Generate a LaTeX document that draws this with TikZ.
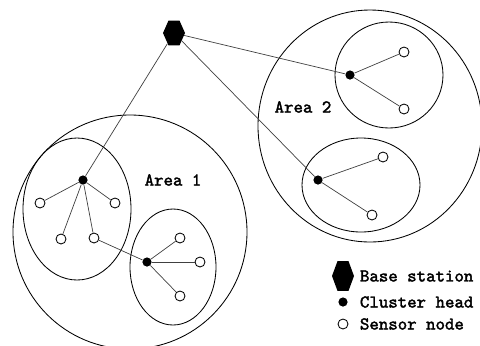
\documentclass[tikz,border=0pt]{standalone}
\usepackage{fontspec}
\usepackage{tikz}
\usetikzlibrary{shapes.geometric}
\newfontfamily\labelfont{lmmono10-regular.otf}[FakeBold=2]

\begin{document}
\begin{tikzpicture}[x=0.025cm, y=-0.025cm,
		base/.style={regular polygon, regular polygon sides=6, fill=black, inner sep=0pt, minimum size=0.55cm, yscale=1.3, transform shape},
		head/.style={circle, fill=black, inner sep=0pt, minimum size=0.23cm},
		sensor/.style={circle, draw, fill=white, inner sep=0pt, minimum size=0.25cm, line width=0.6pt},
		link/.style={black!75, line width=0.5pt},
		zone/.style={draw, line width=0.6pt},
		txt/.style={font=\labelfont\fontsize{12.8}{15}\selectfont}]
		\useasboundingbox (0, 0) rectangle (480, 345);
		% areas and clusters
		\draw[zone] (130, 232) circle [x radius=117, y radius=117];
		\draw[zone] (370, 126) circle [x radius=112, y radius=116];
		\draw[zone] (77, 209) circle [x radius=54, y radius=71];
		\draw[zone] (173, 267) circle [x radius=43, y radius=58];
		\draw[zone] (389, 75) circle [x radius=54, y radius=53];
		\draw[zone] (361, 185) circle [x radius=59, y radius=47];
		\node[txt] (a1) at (173, 180) {Area 1};
		\node[txt] (a2) at (303, 107) {Area 2};

		\node[base] (bs) at (174, 33) {};
		\node[head] (h1) at (83, 180) {};
		\node[head] (h2) at (147, 262) {};
		\node[head] (h3) at (350, 75) {};
		\node[head] (h4) at (318, 180) {};

		\node[sensor] (s1) at (40, 203) {};
		\node[sensor] (s2) at (115, 203) {};
		\node[sensor] (s3) at (61, 239) {};
		\node[sensor] (s4) at (94, 238) {};
		\node[sensor] (s5) at (180, 238) {};
		\node[sensor] (s6) at (200, 262) {};
		\node[sensor] (s7) at (180, 296) {};
		\node[sensor] (s8) at (404, 52) {};
		\node[sensor] (s9) at (404, 109) {};
		\node[sensor] (s10) at (383, 157) {};
		\node[sensor] (s11) at (372, 215) {};

		\draw[link] (bs) -- (h1);
		\draw[link] (bs) -- (h3);
		\draw[link] (bs) -- (h4);
		\foreach \s in {s1, s2, s3, s4}
			\draw[link] (h1) -- (\s);
		\foreach \s in {s4, s5, s6, s7}
			\draw[link] (h2) -- (\s);
		\draw[link] (h3) -- (s8);
		\draw[link] (h3) -- (s9);
		\draw[link] (h4) -- (s10);
		\draw[link] (h4) -- (s11);

		% legend
		\node[base, minimum size=0.55cm, yscale=1.2] (kb) at (343, 276) {};
		\node[head] (kh) at (343, 302) {};
		\node[sensor] (ks) at (343, 324) {};
		\node[txt, anchor=west] (tb) at (355, 276) {Base station};
		\node[txt, anchor=west] (th) at (355, 302) {Cluster head};
		\node[txt, anchor=west] (ts) at (355, 324) {Sensor node};
	\end{tikzpicture}
\end{document}
